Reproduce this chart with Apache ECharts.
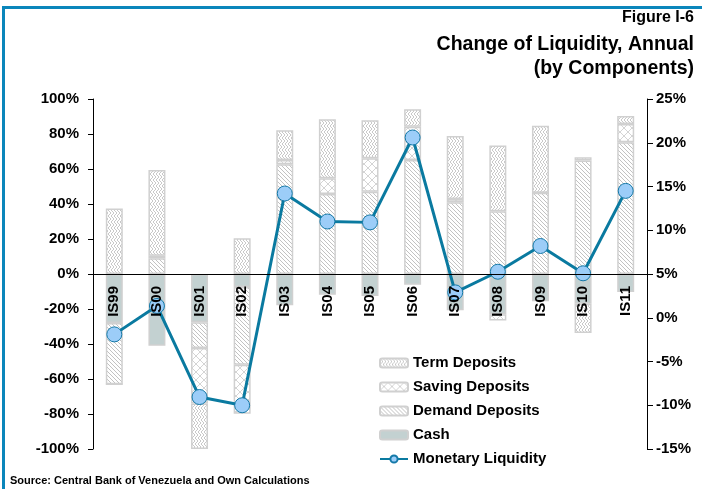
<!DOCTYPE html>
<html>
<head>
<meta charset="utf-8">
<script src="https://cdn.jsdelivr.net/npm/echarts@6/dist/echarts.min.js"></script>
<style>
html,body{margin:0;padding:0;background:#fff;}
#c{width:702px;height:489px;}
</style>
</head>
<body>
<div id="c"></div>
<script>
var categories = ['IS99','IS00','IS01','IS02','IS03','IS04','IS05','IS06','IS07','IS08','IS09','IS10','IS11'];
var cash    = [-28, -41, -27.5, -7.4, -17.9, -11.8, -12.6, -6.1, -20.7, -23, -15.6, -17, -10.3];
var demand  = [-35, 9, -14.8, -44.4, 62.7, 45.7, 47, 65.1, 41, 35.8, 46.5, 64.8, 75.3];
var saving  = [0, 1.5, -31.7, -28, 2.5, 9, 19.1, 19.1, 1.9, -3.5, 0, 1.9, 10.4];
var term    = [37.5, 49, -26, 20.4, 17, 33.7, 21.7, 10, 36, 37.7, 38.2, -16.7, 4.6];
var liquidity = [-1.9, 1.35, -9.06, -10.0, 14.2, 11.0, 10.9, 20.6, 2.9, 5.26, 8.2, 5.08, 14.5];
var leftTicks = [-100, 100, 20];
var rightTicks = [-15, 25, 5];

function pattern(type){
  var c = document.createElement('canvas');
  var ctx;
  if(type==='diag'){
    c.width=4;c.height=4;ctx=c.getContext('2d');
    ctx.fillStyle='#fff';ctx.fillRect(0,0,4,4);
    ctx.strokeStyle='#c2c2c2';ctx.lineWidth=1;
    ctx.beginPath();
    ctx.moveTo(-1,-1);ctx.lineTo(5,5);
    ctx.moveTo(-1,3);ctx.lineTo(1,5);
    ctx.moveTo(3,-1);ctx.lineTo(5,1);
    ctx.stroke();
  } else if(type==='cross'){
    c.width=8;c.height=8;ctx=c.getContext('2d');
    ctx.fillStyle='#fff';ctx.fillRect(0,0,8,8);
    ctx.strokeStyle='#d4d4d4';ctx.lineWidth=1;
    ctx.beginPath();
    ctx.moveTo(0,0);ctx.lineTo(8,8);
    ctx.moveTo(8,0);ctx.lineTo(0,8);
    ctx.stroke();
  } else {
    c.width=6;c.height=6;ctx=c.getContext('2d');
    ctx.fillStyle='#fff';ctx.fillRect(0,0,6,6);
    ctx.strokeStyle='#c8c8c8';ctx.lineWidth=1;
    ctx.beginPath();
    ctx.moveTo(0,0);ctx.lineTo(3,3);ctx.lineTo(0,6);
    ctx.moveTo(3,0);ctx.lineTo(6,3);ctx.lineTo(3,6);
    ctx.stroke();
  }
  return {image:c, repeat:'repeat'};
}

var border = {borderColor:'#d0d0d0', borderWidth:1.5};
function barSeries(name, data, color){
  return {
    name:name, type:'bar', stack:'liq', data:data, barWidth:17,
    yAxisIndex:0,
    itemStyle: Object.assign({color:color}, border),
    emphasis:{disabled:true}
  };
}

var FONT = 'Liberation Sans, Arial, sans-serif';
var chart = echarts.init(document.getElementById('c'), null, {renderer:'canvas'});
var txt = {fontFamily:FONT, fontWeight:'bold', color:'#000'};
chart.setOption({
  animation:false,
  backgroundColor:'#fff',
  grid:{left:93, right:55, top:99, bottom:40, containLabel:false, outerBoundsMode:'none'},
  legend:{
    orient:'vertical', left:374, top:350, itemWidth:28, itemHeight:9, itemGap:8,
    textStyle:Object.assign({fontSize:15, lineHeight:16}, txt),
    data:['Term Deposits','Saving Deposits','Demand Deposits','Cash','Monetary Liquidity']
  },
  xAxis:{
    type:'category', data:categories, z:10,
    axisLine:{onZero:true, lineStyle:{color:'#000', width:1}},
    axisTick:{inside:true, length:5, lineStyle:{color:'#000'}},
    axisLabel:Object.assign({rotate:90, fontSize:15, margin:-163}, txt)
  },
  yAxis:[
    {type:'value', min:leftTicks[0], max:leftTicks[1], interval:leftTicks[2],
     axisLine:{show:true, lineStyle:{color:'#000'}},
     axisTick:{show:true, length:5, lineStyle:{color:'#000'}},
     splitLine:{show:false},
     axisLabel:Object.assign({fontSize:15, margin:14, formatter:'{value}%'}, txt)},
    {type:'value', min:rightTicks[0], max:rightTicks[1], interval:rightTicks[2], position:'right',
     axisLine:{show:true, lineStyle:{color:'#000'}},
     axisTick:{show:true, length:6, lineStyle:{color:'#000'}},
     splitLine:{show:false},
     axisLabel:Object.assign({fontSize:15, margin:9, formatter:'{value}%'}, txt)}
  ],
  series:[
    barSeries('Cash', cash, '#c3d1d1'),
    barSeries('Demand Deposits', demand, pattern('diag')),
    barSeries('Saving Deposits', saving, pattern('cross')),
    barSeries('Term Deposits', term, pattern('zig')),
    {name:'Monetary Liquidity', type:'line', yAxisIndex:1, data:liquidity, z:5,
     symbol:'circle', symbolSize:15,
     lineStyle:{color:'#0a7aa0', width:3},
     itemStyle:{color:'#9ccdf8', borderColor:'#1479a8', borderWidth:1},
     emphasis:{disabled:true}}
  ],
  graphic:[
    {type:'rect', shape:{x:2, y:6, width:700, height:3}, style:{fill:'#0a86bb'}, silent:true},
    {type:'rect', shape:{x:2, y:6, width:3, height:483}, style:{fill:'#0a86bb'}, silent:true},
    {type:'text', x:694, y:18, style:{text:'Figure I-6', fontSize:16, fontFamily:FONT, fontWeight:'bold', fill:'#000', align:'right', verticalAlign:'middle'}},
    {type:'text', x:694, y:45, style:{text:'Change of Liquidity, Annual', fontSize:19.5, fontFamily:FONT, fontWeight:'bold', fill:'#000', align:'right', verticalAlign:'middle'}},
    {type:'text', x:694, y:69, style:{text:'(by Components)', fontSize:19.5, fontFamily:FONT, fontWeight:'bold', fill:'#000', align:'right', verticalAlign:'middle'}},
    {type:'text', x:10, y:475, style:{text:'Source: Central Bank of Venezuela and Own Calculations', fontSize:11, fontFamily:FONT, fontWeight:'bold', fill:'#000', verticalAlign:'top'}}
  ]
});
</script>
</body>
</html>
